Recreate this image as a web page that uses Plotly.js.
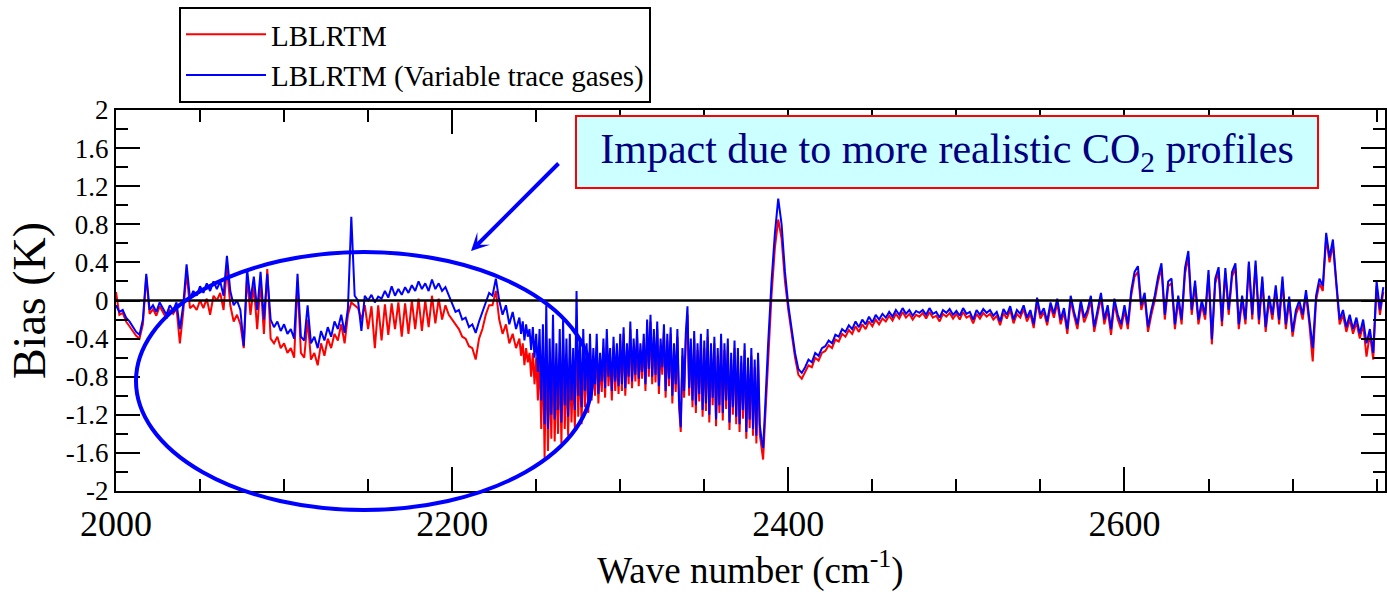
<!DOCTYPE html>
<html>
<head>
<meta charset="utf-8">
<script src="https://cdn.plot.ly/plotly-3.0.1.min.js"></script>
<style>
html,body{margin:0;padding:0;background:#fff;}
#chart{width:1387px;height:592px;}
</style>
</head>
<body>
<div id="chart"></div>
<script>
// Wave-number grid (cm-1): sampling segments used when reading the picture
// (2 cm-1 steps, 1 cm-1 steps inside the dense CO2 band)
const gridStarts = [2000, 2240, 2390];
const gridSteps  = [2, 1, 2];
const gridCounts = [120, 149, 183];

// Series names
const seriesNames = ["LBLRTM", "LBLRTM (Variable trace gases)"];

// Bias (K), LBLRTM (red)
const biasLBLRTM = [
 // 2000-2238, step 2
 0.09,-0.15,-0.13,-0.22,-0.27,-0.32,-0.37,-0.40,-0.25,0.25,
 -0.14,-0.09,-0.16,-0.06,-0.12,-0.19,-0.10,-0.14,-0.08,-0.45,
 -0.12,0.30,-0.08,-0.05,-0.10,0.00,-0.08,0.02,-0.15,0.05,
 0.00,0.08,-0.10,0.35,-0.05,-0.22,-0.15,-0.25,-0.50,0.25,
 -0.15,0.15,-0.30,0.20,-0.35,0.33,-0.40,-0.45,-0.38,-0.50,
 -0.45,-0.55,-0.50,-0.60,0.20,-0.55,-0.60,-0.20,-0.62,-0.55,
 -0.68,-0.45,-0.58,-0.40,-0.50,-0.35,-0.42,-0.25,-0.45,-0.15,
 -0.02,-0.05,-0.08,-0.20,-0.05,-0.30,-0.06,-0.50,-0.05,-0.42,
 -0.04,-0.36,-0.03,-0.30,-0.02,-0.38,-0.03,-0.35,0.00,-0.30,
 0.02,-0.32,0.00,-0.28,0.05,-0.24,0.02,-0.20,-0.05,-0.15,
 -0.20,-0.25,-0.30,-0.38,-0.40,-0.48,-0.50,-0.62,-0.40,-0.30,
 -0.15,-0.05,-0.05,0.10,-0.20,-0.35,-0.25,-0.45,-0.35,-0.50,
 // 2240-2388, step 1
 -0.40,-0.58,-0.45,-0.68,-0.50,-0.65,-0.55,-0.80,-0.55,-0.88,
 -0.60,-1.05,-0.55,-1.35,-0.50,-1.65,-0.40,-1.58,-0.65,-1.45,
 -0.45,-1.48,-0.70,-1.40,-0.55,-1.50,-0.45,-1.35,-0.65,-1.42,
 -0.60,-1.28,-0.72,-1.35,-0.30,-1.22,-0.62,-1.30,-0.52,-1.12,
 -0.60,-1.18,-0.48,-1.05,-0.62,-1.00,-0.48,-1.08,-0.65,-0.96,
 -0.50,-1.02,-0.40,-0.90,-0.60,-1.05,-0.48,-0.95,-0.55,-0.98,
 -0.42,-0.95,-0.35,-1.00,-0.52,-0.88,-0.30,-0.92,-0.48,-0.85,
 -0.38,-0.90,-0.52,-0.82,-0.42,-0.95,-0.28,-0.80,-0.22,-0.88,
 -0.38,-0.86,-0.30,-0.98,-0.48,-0.78,-0.33,-1.02,-0.42,-0.90,
 -0.35,-1.08,-0.52,-0.96,-0.38,-1.12,-1.38,-0.58,-1.02,-0.42,
 -0.15,-1.00,-0.48,-1.12,-0.40,-1.18,-0.52,-1.06,-0.42,-1.22,
 -0.50,-1.16,-0.38,-1.28,-0.52,-1.10,-0.45,-1.32,-0.58,-1.18,
 -0.42,-1.26,-0.52,-1.14,-0.48,-1.36,-0.62,-1.20,-0.50,-1.30,
 -0.58,-1.38,-0.65,-1.24,-0.52,-1.45,-0.68,-1.34,-0.58,-1.42,
 -0.70,-1.50,-0.62,-1.40,-1.55,-1.67,-1.32,-0.95,-0.60,
 // 2390-2754, step 2
 0.05,0.55,0.85,0.65,0.20,
 -0.10,-0.35,-0.60,-0.78,-0.82,-0.75,-0.68,-0.70,-0.60,-0.63,
 -0.55,-0.53,-0.47,-0.50,-0.41,-0.43,-0.35,-0.38,-0.31,-0.35,
 -0.27,-0.33,-0.25,-0.30,-0.22,-0.27,-0.20,-0.25,-0.19,-0.22,
 -0.16,-0.21,-0.14,-0.19,-0.12,-0.18,-0.14,-0.20,-0.15,-0.17,
 -0.13,-0.19,-0.12,-0.18,-0.16,-0.22,-0.14,-0.17,-0.13,-0.19,
 -0.14,-0.20,-0.12,-0.18,-0.16,-0.24,-0.14,-0.19,-0.13,-0.17,
 -0.14,-0.20,-0.16,-0.26,-0.13,-0.19,-0.10,-0.24,-0.14,-0.18,
 -0.09,-0.22,-0.14,-0.29,-0.02,-0.19,-0.12,-0.26,-0.06,-0.18,
 -0.03,-0.25,-0.12,-0.35,0.00,-0.16,-0.30,-0.04,-0.23,-0.14,
 0.00,-0.33,-0.14,0.03,-0.25,-0.10,-0.36,-0.03,-0.20,-0.30,
 -0.10,-0.30,0.05,0.25,0.30,-0.10,0.03,-0.33,-0.15,0.00,
 0.20,0.34,-0.20,0.15,0.18,-0.30,0.00,-0.25,0.28,0.46,
 -0.15,0.16,-0.25,-0.05,-0.20,0.27,-0.46,0.18,0.30,-0.27,
 0.29,-0.15,0.25,0.34,-0.30,0.00,-0.25,0.38,-0.20,0.37,
 -0.25,0.20,-0.33,0.00,-0.20,0.11,-0.25,0.20,-0.30,-0.01,
 -0.38,-0.15,-0.05,-0.20,0.06,-0.25,-0.64,0.00,0.18,0.10,
 0.66,0.40,0.59,0.15,-0.25,-0.15,-0.33,-0.20,-0.35,-0.23,
 -0.40,-0.25,-0.59,-0.35,-0.62,0.15,-0.15,0.09
];

// Bias (K), LBLRTM with variable trace gases (blue)
const biasVariable = [
 // 2000-2238, step 2
 -0.05,-0.12,-0.10,-0.18,-0.22,-0.28,-0.33,-0.36,-0.20,0.28,
 -0.10,-0.05,-0.12,-0.02,-0.08,-0.15,-0.05,-0.10,-0.02,-0.30,
 -0.05,0.38,0.02,0.10,0.05,0.15,0.08,0.18,0.10,0.20,
 0.12,0.20,0.05,0.47,0.10,-0.05,0.00,-0.10,-0.48,0.33,
 0.00,0.25,-0.10,0.30,-0.20,0.28,-0.20,-0.28,-0.22,-0.32,
 -0.25,-0.35,-0.30,-0.40,0.28,-0.38,-0.42,-0.05,-0.45,-0.38,
 -0.50,-0.32,-0.42,-0.28,-0.38,-0.22,-0.30,-0.15,-0.34,-0.08,
 0.88,0.05,0.00,-0.32,0.05,0.00,0.06,-0.02,0.04,0.02,
 0.10,0.03,0.15,0.05,0.12,0.06,0.14,0.08,0.16,0.10,
 0.20,0.12,0.18,0.10,0.22,0.12,0.18,0.10,0.14,0.05,
 -0.05,-0.12,-0.10,-0.20,-0.18,-0.28,-0.25,-0.34,-0.22,-0.12,
 -0.02,0.08,0.05,0.23,0.00,-0.15,-0.05,-0.25,-0.12,-0.30,
 // 2240-2388, step 1
 -0.18,-0.35,-0.22,-0.42,-0.25,-0.38,-0.30,-0.52,-0.28,-0.60,
 -0.35,-0.75,-0.30,-1.05,-0.25,-1.30,-0.05,-1.35,-0.40,-1.20,
 -0.15,-1.25,-0.45,-1.15,-0.30,-1.28,-0.20,-1.10,-0.40,-1.22,
 -0.35,-1.05,-0.50,-1.15,0.10,-1.00,-0.40,-1.12,-0.30,-0.95,
 -0.45,-1.05,-0.35,-0.92,-0.50,-0.88,-0.35,-0.98,-0.55,-0.85,
 -0.40,-0.92,-0.30,-0.80,-0.50,-0.95,-0.38,-0.85,-0.45,-0.90,
 -0.35,-0.88,-0.28,-0.92,-0.45,-0.80,-0.22,-0.85,-0.40,-0.78,
 -0.30,-0.82,-0.45,-0.75,-0.35,-0.88,-0.20,-0.72,-0.15,-0.80,
 -0.30,-0.78,-0.22,-0.90,-0.40,-0.70,-0.25,-0.95,-0.35,-0.82,
 -0.28,-1.00,-0.45,-0.88,-0.30,-1.05,-1.33,-0.50,-0.95,-0.35,
 -0.06,-0.92,-0.40,-1.05,-0.32,-1.10,-0.45,-0.98,-0.35,-1.15,
 -0.42,-1.08,-0.30,-1.20,-0.45,-1.02,-0.38,-1.25,-0.50,-1.10,
 -0.35,-1.18,-0.45,-1.05,-0.40,-1.28,-0.55,-1.12,-0.42,-1.22,
 -0.50,-1.30,-0.58,-1.15,-0.45,-1.38,-0.60,-1.25,-0.50,-1.35,
 -0.62,-1.42,-0.55,-1.30,-1.45,-1.55,-1.20,-0.80,-0.45,
 // 2390-2754, step 2
 0.20,0.70,1.07,0.80,0.30,
 -0.05,-0.30,-0.55,-0.72,-0.76,-0.70,-0.62,-0.65,-0.55,-0.58,
 -0.50,-0.48,-0.42,-0.45,-0.36,-0.38,-0.30,-0.33,-0.26,-0.30,
 -0.22,-0.28,-0.20,-0.25,-0.17,-0.23,-0.15,-0.20,-0.14,-0.18,
 -0.12,-0.17,-0.10,-0.15,-0.08,-0.14,-0.10,-0.16,-0.11,-0.13,
 -0.10,-0.15,-0.08,-0.14,-0.12,-0.18,-0.10,-0.13,-0.09,-0.15,
 -0.11,-0.16,-0.08,-0.14,-0.12,-0.20,-0.10,-0.15,-0.09,-0.13,
 -0.10,-0.16,-0.12,-0.22,-0.09,-0.15,-0.06,-0.20,-0.10,-0.14,
 -0.05,-0.18,-0.10,-0.25,0.03,-0.15,-0.08,-0.22,-0.02,-0.14,
 0.02,-0.20,-0.08,-0.30,0.05,-0.12,-0.25,0.00,-0.18,-0.10,
 0.05,-0.28,-0.10,0.08,-0.20,-0.05,-0.30,0.02,-0.15,-0.25,
 -0.05,-0.25,0.10,0.30,0.36,-0.05,0.08,-0.28,-0.10,0.05,
 0.25,0.39,-0.15,0.20,0.23,-0.25,0.05,-0.20,0.34,0.52,
 -0.10,0.21,-0.20,0.00,-0.15,0.32,-0.41,0.23,0.35,-0.22,
 0.34,-0.10,0.30,0.39,-0.25,0.05,-0.20,0.41,-0.15,0.42,
 -0.20,0.25,-0.28,0.05,-0.15,0.16,-0.20,0.25,-0.25,0.04,
 -0.33,-0.10,0.00,-0.15,0.11,-0.20,-0.50,0.05,0.23,0.15,
 0.71,0.45,0.64,0.20,-0.20,-0.10,-0.28,-0.15,-0.30,-0.18,
 -0.35,-0.20,-0.45,-0.30,-0.55,0.20,-0.10,0.14
];

// Tick labels
const xTickVals = [2000, 2200, 2400, 2600];
const xTickText = ["2000", "2200", "2400", "2600"];
const yTickVals = [-2, -1.6, -1.2, -0.8, -0.4, 0, 0.4, 0.8, 1.2, 1.6, 2];
const yTickText = ["-2", "-1.6", "-1.2", "-0.8", "-0.4", "0", "0.4", "0.8", "1.2", "1.6", "2"];

// Text
const xTitle = "Wave number (cm<sup>-1</sup>)";
const yTitle = "Bias (K)";
const noteText = "Impact due to more realistic CO<sub>2</sub> profiles";

// wave-number coordinates of the samples
const wn = [];
gridStarts.forEach((s, k) => { for (let i = 0; i < gridCounts[k]; i++) wn.push(s + i * gridSteps[k]); });

const FONT = "Liberation Serif, Times New Roman, serif";

const traces = [
  {x: wn, y: biasLBLRTM, name: seriesNames[0], type: "scatter", mode: "lines",
   line: {color: "#ff0000", width: 2}},
  {x: wn, y: biasVariable, name: seriesNames[1], type: "scatter", mode: "lines",
   line: {color: "#0000ff", width: 2}}
];

// plot area in pixels: left 116, right 1385, top 110, bottom 491
const PL = 116, PR = 1385, PT = 110, PB = 491;
const px = v => (v - PL) / (PR - PL);
const py = v => (PB - v) / (PB - PT);

const layout = {
  width: 1387, height: 592,
  margin: {l: PL, r: 1387 - PR, t: PT, b: 592 - PB, pad: 0},
  paper_bgcolor: "#ffffff", plot_bgcolor: "#ffffff",
  font: {family: FONT, color: "#000000"},
  showlegend: true,
  legend: {
    x: px(179), y: py(7), xanchor: "left", yanchor: "top",
    bgcolor: "#ffffff", bordercolor: "#000000", borderwidth: 2,
    font: {family: FONT, size: 29, color: "#000000"},
    itemwidth: 80, tracegroupgap: 0
  },
  xaxis: {
    range: [2000, 2755], showgrid: false, zeroline: false,
    showline: true, linecolor: "#000000", linewidth: 2, mirror: "ticks",
    ticks: "inside", ticklen: 24, tickwidth: 2, tickcolor: "#000000",
    tickmode: "array", tickvals: xTickVals, ticktext: xTickText,
    tickfont: {family: FONT, size: 36, color: "#000000"},
    minor: {tickmode: "linear", tick0: 2000, dtick: 50, ticks: "inside", ticklen: 12, tickwidth: 2, tickcolor: "#000000"},
    title: {text: xTitle, font: {family: FONT, size: 37, color: "#000000"}, standoff: 12},
    automargin: false
  },
  yaxis: {
    range: [-2, 2], showgrid: false, zeroline: false,
    showline: true, linecolor: "#000000", linewidth: 2, mirror: "ticks",
    ticks: "inside", ticklen: 24, tickwidth: 2, tickcolor: "#000000",
    tickmode: "array", tickvals: yTickVals, ticktext: yTickText,
    tickfont: {family: FONT, size: 27, color: "#000000"},
    minor: {tickmode: "linear", tick0: 0, dtick: 0.2, ticks: "inside", ticklen: 12, tickwidth: 2, tickcolor: "#000000"},
    title: {text: yTitle, font: {family: FONT, size: 46, color: "#000000"}, standoff: 6},
    automargin: false
  },
  shapes: [
    {type: "line", xref: "paper", yref: "y", x0: 0, x1: 1, y0: 0, y1: 0,
     line: {color: "#000000", width: 2.5}, layer: "above"},
    {type: "circle", xref: "paper", yref: "paper",
     x0: px(136), x1: px(592), y0: py(510), y1: py(252),
     line: {color: "#0000ff", width: 4}, fillcolor: "rgba(0,0,0,0)", layer: "above"}
  ],
  annotations: [
    {xref: "paper", yref: "paper", x: px(947), y: py(152), xanchor: "center", yanchor: "middle",
     text: noteText, showarrow: false,
     font: {family: FONT, size: 42, color: "#000080"},
     bgcolor: "#ccffff", bordercolor: "#ff0000", borderwidth: 2,
     width: 738, height: 68, align: "center", valign: "middle"},
    {xref: "paper", yref: "paper", x: px(471), y: py(251), text: "",
     showarrow: true, axref: "pixel", ayref: "pixel", ax: 89, ay: -89,
     arrowcolor: "#0000ff", arrowwidth: 4, arrowhead: 3, arrowsize: 0.75, standoff: 0}
  ]
};

Plotly.newPlot("chart", traces, layout, {displayModeBar: false, staticPlot: true});
</script>
</body>
</html>
